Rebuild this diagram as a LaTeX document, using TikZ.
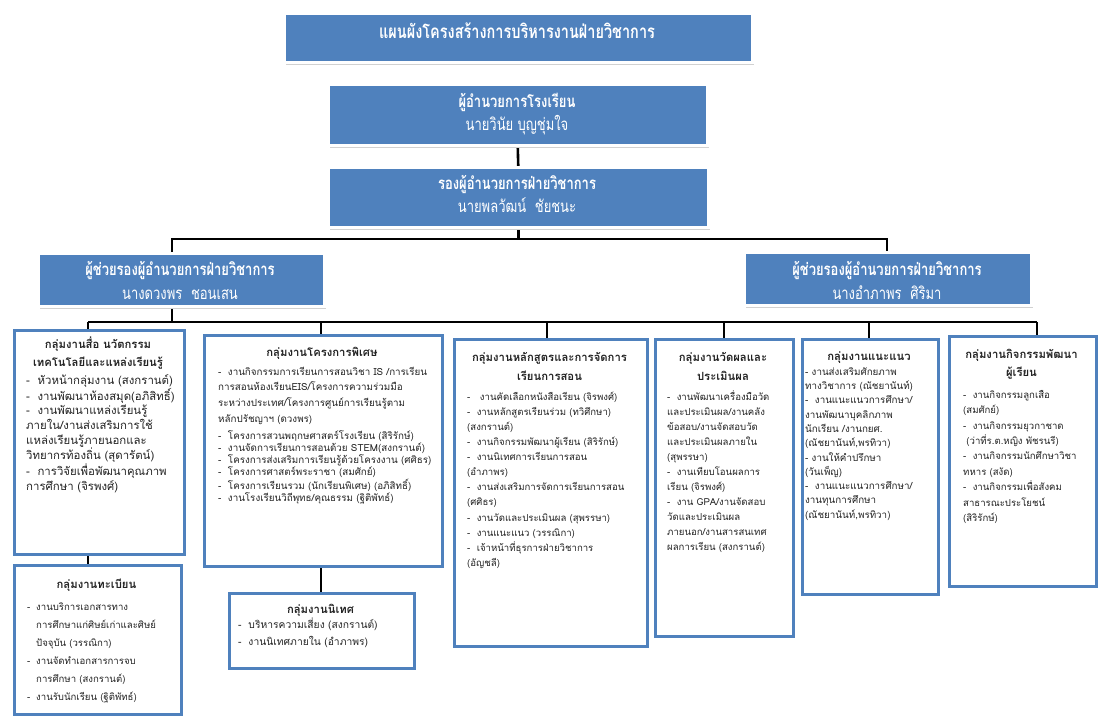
\documentclass[tikz,border=0pt]{standalone}
\usepackage{fontspec}
\usepackage{graphicx}
\setmainfont[Script=Thai]{Loma}
\usetikzlibrary{shadows}
\definecolor{boxblue}{RGB}{79,129,189}
\definecolor{txtgray}{RGB}{35,35,35}
\setlength{\parindent}{0pt}
\setlength{\lineskiplimit}{-30pt}
\newcommand{\tstrut}{\rule{0pt}{11pt}}
\newcommand{\hstrut}{\rule{0pt}{12pt}}
\pgfdeclarelayer{background}
\pgfsetlayers{background,main}
\begin{document}
\begin{tikzpicture}[x=1pt,y=-1pt,
 topbox/.style={draw=white, line width=2.5pt, fill=boxblue, anchor=north west, inner sep=0pt,
   general shadow={fill=black!18, shadow xshift=1.5pt, shadow yshift=-2.5pt}},
 grpbox/.style={draw=boxblue, line width=2.6pt, fill=white, anchor=north west, inner sep=0pt},
 conn/.style={draw=black, line width=2.6pt},
 toptitle/.style={text=white, anchor=base, inner sep=0pt, font=\fontsize{13}{15}\selectfont\bfseries},
 topname/.style={text=white, anchor=base, inner sep=0pt, font=\fontsize{13}{15}\selectfont},
 head/.style={anchor=north, inner sep=0pt, text width=240pt, align=center, text=txtgray,
   font=\fontsize{11.3}{#1}\selectfont\bfseries},
 items/.style 2 args={anchor=north west, inner sep=0pt, text width=300pt, align=left, text=txtgray,
   font=\fontsize{#1}{#2}\selectfont}
]
\useasboundingbox (0,0) rectangle (1104,720);

% ---------- top boxes ----------
\node[topbox, minimum width=468pt, minimum height=49pt] (title) at (283,12) {};
\node[toptitle, font=\fontsize{14.5}{16}\selectfont\bfseries] (titletxt) at (517,38) {\scalebox{1}[1.3]{แผนผังโครงสร้างการบริหารงานฝ่ายวิชาการ}};

\node[topbox, minimum width=379pt, minimum height=61pt] (dir) at (327,83) {};
\node[toptitle] (dirt) at (517,107) {\scalebox{1}[1.3]{ผู้อำนวยการโรงเรียน}};
\node[topname] (dirn) at (517,130) {\scalebox{1}[1.3]{นายวินัย บุญชุ่มใจ}};

\node[topbox, minimum width=380pt, minimum height=60pt] (dep) at (327,166) {};
\node[toptitle] (dept) at (517,189) {\scalebox{1}[1.3]{รองผู้อำนวยการฝ่ายวิชาการ}};
\node[topname] (depn) at (517,212) {\scalebox{1}[1.3]{นายพลวัฒน์\ \ ชัยชนะ}};

\node[topbox, minimum width=286pt, minimum height=53pt] (la) at (37,252) {};
\node[toptitle] (lat) at (180,275) {\scalebox{1}[1.3]{ผู้ช่วยรองผู้อำนวยการฝ่ายวิชาการ}};
\node[topname] (lan) at (180,299) {\scalebox{1}[1.3]{นางดวงพร\ \ ชอนเสน}};

\node[topbox, minimum width=287pt, minimum height=53pt] (ra) at (743,251) {};
\node[toptitle] (rat) at (887,275) {\scalebox{1}[1.3]{ผู้ช่วยรองผู้อำนวยการฝ่ายวิชาการ}};
\node[topname] (ran) at (887,299) {\scalebox{1}[1.3]{นางอำภาพร\ \ ศิริมา}};

% ---------- group boxes ----------
\node[grpbox, minimum width=170pt, minimum height=224pt] (g1) at (13,329) {};
\node[grpbox, minimum width=167pt, minimum height=149pt] (g2) at (13,564) {};
\node[grpbox, minimum width=238pt, minimum height=231pt] (g3) at (203,334) {};
\node[grpbox, minimum width=185pt, minimum height=75pt] (g4) at (228,592) {};
\node[grpbox, minimum width=193pt, minimum height=307pt] (g5) at (453,338) {};
\node[grpbox, minimum width=138pt, minimum height=297pt] (g6) at (654,338) {};
\node[grpbox, minimum width=136pt, minimum height=255pt] (g7) at (801,338) {};
\node[grpbox, minimum width=147pt, minimum height=250pt] (g8) at (948,335) {};

% ---------- group texts ----------
\node[head=18] (h1) at (98,336.5) {\hstrut กลุ่มงานสื่อ นวัตกรรม\\เทคโนโลยีและแหล่งเรียนรู้};
\node[items={11.4}{14.6}] (i1) at (26,373) {\tstrut -\ \ หัวหน้ากลุ่มงาน (สงกรานต์)\\
-\ \ งานพัฒนาห้องสมุด(อภิสิทธิ์)\\
-\ \ งานพัฒนาแหล่งเรียนรู้\\
ภายใน/งานส่งเสริมการใช้\\
แหล่งเรียนรู้ภายนอกและ\\
วิทยากรท้องถิ่น (สุดารัตน์)\\
-\ \ การวิจัยเพื่อพัฒนาคุณภาพ\\
การศึกษา (จิรพงศ์)};

\node[head=18] (h2) at (96.5,576.5) {\hstrut กลุ่มงานทะเบียน};
\node[items={9.6}{18}] (i2) at (27,599) {\tstrut\makebox[9pt][l]{-}งานบริการเอกสารทาง\\
\hspace*{9pt}การศึกษาแก่ศิษย์เก่าและศิษย์\\
\hspace*{9pt}ปัจจุบัน (วรรณิกา)\\
\makebox[9pt][l]{-}งานจัดทำเอกสารการจบ\\
\hspace*{9pt}การศึกษา (สงกรานต์)\\
\makebox[9pt][l]{-}งานรับนักเรียน (ฐิติพัทธ์)};

\node[head=18] (h3) at (322,344.5) {\hstrut กลุ่มงานโครงการพิเศษ};
\node[items={9.8}{15.7}] (i3a) at (218,364) {\tstrut -\ \ งานกิจกรรมการเรียนการสอนวิชา IS /การเรียน\\
การสอนห้องเรียนEIS/โครงการความร่วมมือ\\
ระหว่างประเทศ/โครงการศูนย์การเรียนรู้ตาม\\
หลักปรัชญาฯ (ดวงพร)};
\node[items={9.8}{12.2}] (i3b) at (218,428) {\tstrut -\ \ โครงการสวนพฤกษศาสตร์โรงเรียน (สิริรักษ์)\\
-\ \ งานจัดการเรียนการสอนด้วย STEM(สงกรานต์)\\
-\ \ โครงการส่งเสริมการเรียนรู้ด้วยโครงงาน (ศศิธร)\\
-\ \ โครงการศาสตร์พระราชา (สมศักย์)\\
-\ \ โครงการเรียนรวม (นักเรียนพิเศษ) (อภิสิทธิ์)\\
-\ \ งานโรงเรียนวิถีพุทธ/คุณธรรม (ฐิติพัทธ์)};

\node[head=18] (h4) at (320.5,601.5) {\hstrut กลุ่มงานนิเทศ};
\node[items={10.3}{17}] (i4) at (238,617) {\tstrut -\ \ บริหารความเสี่ยง (สงกรานต์)\\
-\ \ งานนิเทศภายใน (อำภาพร)};

\node[head=19] (h5) at (549.5,349.5) {\hstrut กลุ่มงานหลักสูตรและการจัดการ\\เรียนการสอน};
\node[items={9.6}{15.1}] (i5) at (467,389) {\tstrut -\ \ \ งานคัดเลือกหนังสือเรียน (จิรพงศ์)\\
-\ \ งานหลักสูตรเรียนร่วม (ทวิศึกษา)\\
(สงกรานต์)\\
-\ \ งานกิจกรรมพัฒนาผู้เรียน (สิริรักษ์)\\
-\ \ งานนิเทศการเรียนการสอน\\
(อำภาพร)\\
-\ \ งานส่งเสริมการจัดการเรียนการสอน\\
(ศศิธร)\\
-\ \ งานวัดและประเมินผล (สุพรรษา)\\
-\ \ งานแนะแนว (วรรณิกา)\\
-\ \ เจ้าหน้าที่ธุรการฝ่ายวิชาการ\\
(อัญชลี)};

\node[head=19] (h6) at (723,349.5) {\hstrut กลุ่มงานวัดผลและ\\ประเมินผล};
\node[items={9.6}{15}] (i6) at (667,389) {\tstrut -\ \ งานพัฒนาเครื่องมือวัด\\
และประเมินผล/งานคลัง\\
ข้อสอบ/งานจัดสอบวัด\\
และประเมินผลภายใน\\
(สุพรรษา)\\
-\ \ งานเทียบโอนผลการ\\
เรียน (จิรพงศ์)\\
-\ \ งาน GPA/งานจัดสอบ\\
วัดและประเมินผล\\
ภายนอก/งานสารสนเทศ\\
ผลการเรียน (สงกรานต์)};

\node[head=18] (h7) at (869,348.5) {\hstrut กลุ่มงานแนะแนว};
\node[items={9.8}{14.3}] (i7) at (805,364) {\tstrut - งานส่งเสริมศักยภาพ\\
ทางวิชาการ (ณัชยานันท์)\\
-\ \ งานแนะแนวการศึกษา/\\
งานพัฒนาบุคลิกภาพ\\
นักเรียน /งานกยศ.\\
(ณัชยานันท์,พรทิวา)\\
- งานให้คำปรึกษา\\
(วันเพ็ญ)\\
-\ \ งานแนะแนวการศึกษา/\\
งานทุนการศึกษา\\
(ณัชยานันท์,พรทิวา)};

\node[head=18] (h8) at (1021.5,346.5) {\hstrut กลุ่มงานกิจกรรมพัฒนา\\ผู้เรียน};
\node[items={9.6}{15.4}] (i8) at (963,387) {\tstrut -\ \ งานกิจกรรมลูกเสือ\\
(สมศักย์)\\
-\ \ งานกิจกรรมยุวกาชาด\\
\ (ว่าที่ร.ต.หญิง พัชรนรี)\\
-\ \ งานกิจกรรมนักศึกษาวิชา\\
ทหาร (สงัด)\\
-\ \ งานกิจกรรมเพื่อสังคม\\
สาธารณะประโยชน์\\
(สิริรักษ์)};

% ---------- connectors ----------
\coordinate (hL) at (172,239);
\coordinate (hR) at (887,239);
\coordinate (gL) at (88,322);
\coordinate (gR) at (1037,322);
\coordinate (d3) at (321,322);
\coordinate (d5) at (547,322);
\coordinate (d6) at (724,322);
\coordinate (d7) at (869,322);
\begin{pgfonlayer}{background}
\draw[conn] (dir.south) -- (dep.north);
\draw[conn] (dep.south) -- (dep.south |- hL);
\draw[conn] (la.north -| hL) -- (hL) -- (hR) -- (ra.north -| hR);
\draw[conn] (la.south -| hL) -- (hL |- gL);
\draw[conn] (gL) -- (gR);
\draw[conn] (gL) -- (g1.north -| gL);
\draw[conn] (d3) -- (g3.north -| d3);
\draw[conn] (d5) -- (g5.north -| d5);
\draw[conn] (d6) -- (g6.north -| d6);
\draw[conn] (d7) -- (g7.north -| d7);
\draw[conn] (gR) -- (g8.north -| gR);
\draw[conn] (g1.south -| gL) -- (g2.north -| gL);
\draw[conn] (g3.south -| d3) -- (g4.north -| d3);
\end{pgfonlayer}
\end{tikzpicture}
\end{document}
